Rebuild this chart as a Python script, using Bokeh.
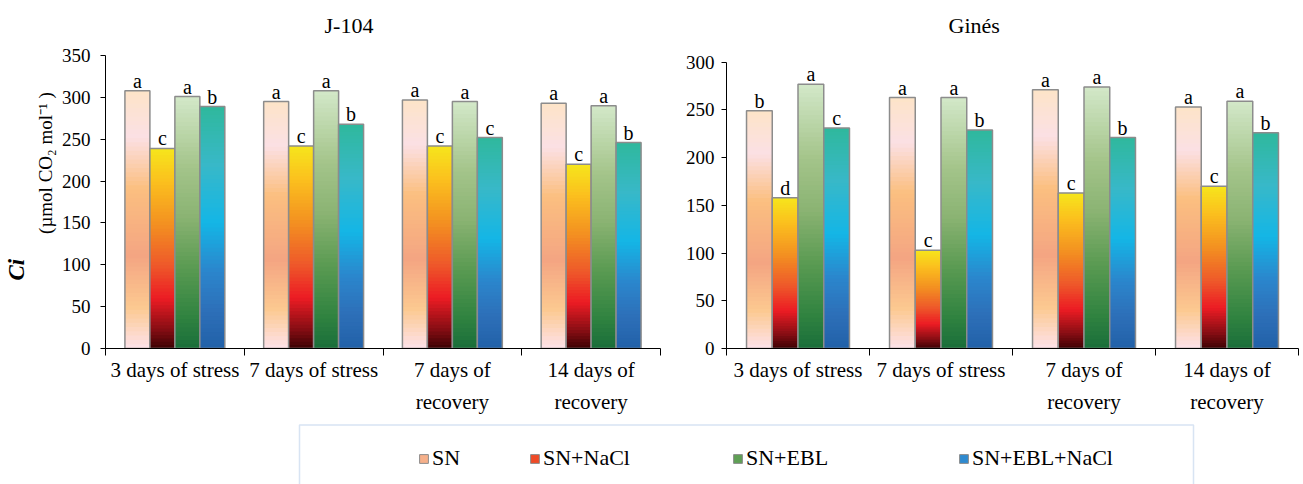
import numpy as np
from bokeh.plotting import figure
from bokeh.models import (ColumnDataSource, FixedTicker, Range1d, Legend,
                          LegendItem, BoxAnnotation, Title)
from bokeh.layouts import column, row
from bokeh.embed import file_html
from bokeh.resources import INLINE
from bokeh.core.properties import value

# ---------------- data ----------------
periods = ["3 days of stress", "7 days of stress", "7 days of\nrecovery", "14 days of\nrecovery"]
treatments = ["SN", "SN+NaCl", "SN+EBL", "SN+EBL+NaCl"]

j104_sn = [308, 295, 297, 293]
j104_nacl = [239, 242, 242, 220]
j104_ebl = [301, 308, 295, 290]
j104_ebl_nacl = [289, 268, 252, 246]
j104_let_sn = ["a", "a", "a", "a"]
j104_let_nacl = ["c", "c", "c", "c"]
j104_let_ebl = ["a", "a", "a", "a"]
j104_let_ebl_nacl = ["b", "b", "c", "b"]

gines_sn = [249, 263, 271, 253]
gines_nacl = [158, 103, 163, 170]
gines_ebl = [277, 263, 274, 259]
gines_ebl_nacl = [231, 229, 221, 226]
gines_let_sn = ["b", "a", "a", "a"]
gines_let_nacl = ["d", "c", "c", "c"]
gines_let_ebl = ["a", "a", "a", "a"]
gines_let_ebl_nacl = ["c", "b", "b", "b"]

# ---------------- styles ----------------
FONT = "Liberation Serif"
gradients = [
    [(0.0, "#fde2ea"), (0.16, "#fcc990"), (0.36, "#f4a582"), (0.62, "#fbbf80"),
     (0.82, "#fbe0e4"), (1.0, "#fde4c8")],
    [(0.0, "#3c0204"), (0.1, "#8a0e14"), (0.25, "#ec1c24"), (0.42, "#ee5a2a"),
     (0.62, "#f39021"), (0.83, "#fbbf1e"), (1.0, "#f6e61c")],
    [(0.0, "#1a6e3a"), (0.12, "#2f8240"), (0.32, "#5a9a52"), (0.52, "#8ab372"),
     (0.72, "#a4c48a"), (1.0, "#d3e8c9")],
    [(0.0, "#2161a8"), (0.15, "#2d6fb8"), (0.32, "#2b86cc"), (0.52, "#14b6e6"),
     (0.76, "#38b8c8"), (1.0, "#2fb89c")],
]
legend_colors = ["#f6b08a", "#ef4a26", "#5fa055", "#2e8ad0"]
OUTLINE = "#8c8c8c"
BAR_W = 0.18
OFFSETS = [-0.27, -0.09, 0.09, 0.27]
NSLICE = 60


def hex2rgb(h):
    h = h.lstrip("#")
    return np.array([int(h[i:i + 2], 16) for i in (0, 2, 4)], dtype=float)


def grad_color(stops, t):
    pos = np.array([s[0] for s in stops])
    cols = np.array([hex2rgb(s[1]) for s in stops])
    rgb = [np.interp(t, pos, cols[:, c]) for c in range(3)]
    return "#%02x%02x%02x" % tuple(int(round(v)) for v in rgb)


def make_panel(title, title_offset, series, letters, ymax, headroom, width, mb_left,
               mb_right, ylab_standoff):
    p = figure(width=width, height=423, output_backend="svg", toolbar_location=None,
               x_range=Range1d(0, len(periods)), y_range=Range1d(0, ymax + headroom),
               min_border_left=mb_left, min_border_right=mb_right,
               min_border_top=47, min_border_bottom=75)
    p.outline_line_color = None
    p.xgrid.visible = False
    p.ygrid.visible = False

    centers = np.arange(len(periods)) + 0.5
    for k, (vals, lets) in enumerate(zip(series, letters)):
        xs = centers + OFFSETS[k]
        sx, sb, st, sc = [], [], [], []
        for x, v in zip(xs, vals):
            for j in range(NSLICE):
                sx.append(x)
                sb.append(v * j / NSLICE)
                st.append(min(v, v * (j + 1.8) / NSLICE))
                sc.append(grad_color(gradients[k], (j + 0.5) / NSLICE))
        src = ColumnDataSource(dict(x=sx, bottom=sb, top=st, color=sc))
        p.vbar(x="x", bottom="bottom", top="top", width=BAR_W, source=src,
               fill_color="color", line_color=None)
        bsrc = ColumnDataSource(dict(x=list(xs), top=list(vals), lab=list(lets)))
        p.vbar(x="x", top="top", width=BAR_W, source=bsrc, fill_color=None,
               line_color=OUTLINE, line_width=1.5)
        p.text(x="x", y="top", text="lab", source=bsrc, text_font=value(FONT),
               text_font_size="20px", text_align="center",
               text_baseline="alphabetic", y_offset=-10, text_color="black")

    # x axis
    xa = p.xaxis[0]
    xa.ticker = FixedTicker(ticks=list(centers),
                            minor_ticks=list(np.arange(len(periods) + 1)))
    xa.major_label_overrides = {float(c): lab for c, lab in zip(centers, periods)}
    xa.major_tick_line_color = None
    xa.major_tick_in = 0
    xa.major_tick_out = 0
    xa.minor_tick_in = 0
    xa.minor_tick_out = 7
    xa.minor_tick_line_color = "black"
    xa.axis_line_color = "black"
    xa.major_label_text_font = FONT
    xa.major_label_text_font_size = "21px"
    xa.major_label_text_color = "black"
    xa.major_label_standoff = 2
    xa.major_label_text_line_height = 1.35

    # y axis
    ya = p.yaxis[0]
    ya.ticker = FixedTicker(ticks=list(range(0, ymax + 1, 50)))
    ya.bounds = (0, ymax)
    ya.minor_tick_line_color = None
    ya.major_tick_in = 0
    ya.major_tick_out = 5
    ya.major_tick_line_color = "black"
    ya.axis_line_color = "black"
    ya.major_label_text_font = FONT
    ya.major_label_text_font_size = "19px"
    ya.major_label_text_color = "black"
    ya.major_label_standoff = ylab_standoff

    p.title.text = title
    p.title.text_font = FONT
    p.title.text_font_size = "22px"
    p.title.text_font_style = "normal"
    p.title.text_color = "black"
    p.title.align = "left"
    p.title.offset = title_offset
    p.title.standoff = 20
    return p


p1 = make_panel("J-104", 219, [j104_sn, j104_nacl, j104_ebl, j104_ebl_nacl],
                [j104_let_sn, j104_let_nacl, j104_let_ebl, j104_let_ebl_nacl],
                350, 9.6, 662, 103, 2, 10)
p2 = make_panel("Ginés", 222, [gines_sn, gines_nacl, gines_ebl, gines_ebl_nacl],
                [gines_let_sn, gines_let_nacl, gines_let_ebl, gines_let_ebl_nacl],
                300, 15.4, 641, 64, 5, 7)

# y-axis title of the left panel: "(µmol CO2 mol-1 )" next to the axis, "Ci" beyond it
p1.add_layout(Title(text="(µmol  CO₂ mol⁻¹ )", align="right", offset=40, standoff=6,
                    text_font=FONT, text_font_size="19px", text_font_style="normal",
                    text_color="black"), "left")
p1.add_layout(Title(text="Ci", align="left", offset=68, standoff=2,
                    text_font=FONT, text_font_size="23px",
                    text_font_style="bold italic", text_color="black"), "left")

# ---------------- legend strip ----------------
LEG_H = 61
p3 = figure(width=1303, height=LEG_H, output_backend="svg", toolbar_location=None,
            x_range=Range1d(0, 1303), y_range=Range1d(0, LEG_H),
            x_axis_location=None, y_axis_location=None, min_border=0)
p3.outline_line_color = None
p3.xgrid.visible = False
p3.ygrid.visible = False
p3.add_layout(BoxAnnotation(left=299, right=1193, top=LEG_H - 1.5, bottom=-30,
                            fill_color=None, line_color="#7ea6d8", line_width=1.5))
legend_x = [418, 529, 732, 958]
for t, c, lx in zip(treatments, legend_colors, legend_x):
    r = p3.vbar(x=[-500], top=[-500], bottom=[-600], width=1, fill_color=c,
                line_color=OUTLINE, line_width=1)
    leg = Legend(items=[LegendItem(label=t, renderers=[r])], location=(lx, 13),
                 border_line_color=None, background_fill_alpha=0, padding=0,
                 margin=0, glyph_width=11, glyph_height=11, label_standoff=3,
                 label_text_font=FONT, label_text_font_size="22px",
                 label_text_color="black")
    p3.add_layout(leg)

layout = column(row(p1, p2), p3)
open("out.html", "w").write(file_html(layout, INLINE))
